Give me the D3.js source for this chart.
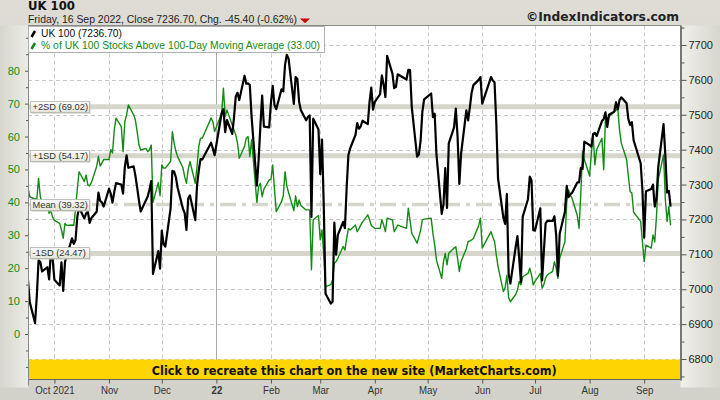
<!DOCTYPE html>
<html><head><meta charset="utf-8">
<script src="https://cdn.jsdelivr.net/npm/d3@7"></script>
<style>body{margin:0;background:#d6d6ce;} svg{display:block}</style>
</head><body><svg id="c" width="720" height="400"></svg>
<script>
// ---------------- DATA ----------------
const ukDates = ["2021-09-16","2021-09-17","2021-09-20","2021-09-21","2021-09-22","2021-09-23","2021-09-24","2021-09-27","2021-09-28","2021-09-29","2021-09-30",
"2021-10-01","2021-10-04","2021-10-05","2021-10-06","2021-10-07","2021-10-08","2021-10-11","2021-10-12","2021-10-13","2021-10-14","2021-10-15","2021-10-18","2021-10-19","2021-10-20","2021-10-21","2021-10-22","2021-10-25","2021-10-26","2021-10-27","2021-10-28","2021-10-29",
"2021-11-01","2021-11-02","2021-11-03","2021-11-04","2021-11-05","2021-11-08","2021-11-09","2021-11-10","2021-11-11","2021-11-12","2021-11-15","2021-11-16","2021-11-17","2021-11-18","2021-11-19","2021-11-22","2021-11-23","2021-11-24","2021-11-25","2021-11-26","2021-11-29","2021-11-30",
"2021-12-01","2021-12-02","2021-12-03","2021-12-06","2021-12-07","2021-12-08","2021-12-09","2021-12-10","2021-12-13","2021-12-14","2021-12-15","2021-12-16","2021-12-17","2021-12-20","2021-12-21","2021-12-22","2021-12-23","2021-12-24","2021-12-29","2021-12-30","2021-12-31",
"2022-01-04","2022-01-05","2022-01-06","2022-01-07","2022-01-10","2022-01-11","2022-01-12","2022-01-13","2022-01-14","2022-01-17","2022-01-18","2022-01-19","2022-01-20","2022-01-21","2022-01-24","2022-01-25","2022-01-26","2022-01-27","2022-01-28","2022-01-31",
"2022-02-01","2022-02-02","2022-02-03","2022-02-04","2022-02-07","2022-02-08","2022-02-09","2022-02-10","2022-02-11","2022-02-14","2022-02-15","2022-02-16","2022-02-17","2022-02-18","2022-02-21","2022-02-22","2022-02-23","2022-02-24","2022-02-25","2022-02-28",
"2022-03-01","2022-03-02","2022-03-03","2022-03-04","2022-03-07","2022-03-08","2022-03-09","2022-03-10","2022-03-11","2022-03-14","2022-03-15","2022-03-16","2022-03-17","2022-03-18","2022-03-21","2022-03-22","2022-03-23","2022-03-24","2022-03-25","2022-03-28","2022-03-29","2022-03-30","2022-03-31",
"2022-04-01","2022-04-04","2022-04-05","2022-04-06","2022-04-07","2022-04-08","2022-04-11","2022-04-12","2022-04-13","2022-04-14","2022-04-19","2022-04-20","2022-04-21","2022-04-22","2022-04-25","2022-04-26","2022-04-27","2022-04-28","2022-04-29",
"2022-05-03","2022-05-04","2022-05-05","2022-05-06","2022-05-09","2022-05-10","2022-05-11","2022-05-12","2022-05-13","2022-05-16","2022-05-17","2022-05-18","2022-05-19","2022-05-20","2022-05-23","2022-05-24","2022-05-25","2022-05-26","2022-05-27","2022-05-30","2022-05-31",
"2022-06-01","2022-06-06","2022-06-07","2022-06-08","2022-06-09","2022-06-10","2022-06-13","2022-06-14","2022-06-15","2022-06-16","2022-06-17","2022-06-20","2022-06-21","2022-06-22","2022-06-23","2022-06-24","2022-06-27","2022-06-28","2022-06-29","2022-06-30",
"2022-07-01","2022-07-04","2022-07-05","2022-07-06","2022-07-07","2022-07-08","2022-07-11","2022-07-12","2022-07-13","2022-07-14","2022-07-15","2022-07-18","2022-07-19","2022-07-20","2022-07-21","2022-07-22","2022-07-25","2022-07-26","2022-07-27","2022-07-28","2022-07-29",
"2022-08-01","2022-08-02","2022-08-03","2022-08-04","2022-08-05","2022-08-08","2022-08-09","2022-08-10","2022-08-11","2022-08-12","2022-08-15","2022-08-16","2022-08-17","2022-08-18","2022-08-19","2022-08-22","2022-08-23","2022-08-24","2022-08-25","2022-08-26","2022-08-30","2022-08-31",
"2022-09-01","2022-09-02","2022-09-05","2022-09-06","2022-09-07","2022-09-08","2022-09-09","2022-09-12","2022-09-13","2022-09-14","2022-09-15","2022-09-16"];
const ukValues = [7027,6963,6903,6980,7083,7078,7051,7063,7028,7108,7086,
7027,7011,7077,6995,7078,7095,7146,7130,7141,7207,7234,7203,7217,7223,7190,7204,7222,7277,7253,7249,7237,
7288,7274,7248,7279,7304,7300,7274,7350,7384,7348,7352,7326,7291,7255,7223,7255,7266,7286,7310,7044,7109,7059,
7168,7129,7122,7232,7339,7337,7321,7291,7231,7218,7170,7260,7269,7198,7297,7341,7373,7372,7420,7403,7384,
7505,7516,7450,7485,7445,7491,7552,7563,7542,7612,7589,7590,7585,7494,7297,7371,7469,7555,7466,7464,
7535,7583,7528,7516,7573,7567,7643,7672,7661,7531,7608,7603,7537,7513,7484,7494,7498,7207,7489,7458,
7330,7429,7238,6987,6959,6964,7191,7099,7156,7193,7175,7291,7385,7404,7442,7476,7460,7467,7483,7473,7537,7578,7515,
7537,7559,7613,7587,7551,7669,7618,7576,7580,7616,7601,7629,7628,7521,7380,7386,7425,7509,7544,
7561,7493,7503,7387,7216,7243,7347,7233,7418,7464,7518,7438,7302,7389,7513,7484,7522,7564,7585,7600,7608,
7532,7608,7598,7593,7476,7317,7205,7187,7273,7044,7016,7121,7152,7089,7020,7208,7258,7323,7312,7169,
7168,7232,7025,7108,7189,7196,7196,7209,7156,7039,7159,7223,7296,7264,7272,7276,7306,7306,7348,7345,7423,
7413,7409,7445,7448,7439,7482,7488,7507,7465,7500,7509,7536,7516,7542,7550,7533,7488,7471,7479,7427,7361,7284,
7148,7281,7287,7300,7237,7262,7351,7473,7385,7277,7282,7237];

const pctDates = ukDates;
const pctValues = [44.5,41.7,41,41,47.3,41.7,40,38.7,36.7,37.5,35.5,
34.5,33.6,31.6,29.1,33.6,33,33.1,33,38,44,49.3,46.3,48.3,45.3,45,46,50.9,54,51,52,53,
53,56,55,62,65.6,63,55.4,64.5,66.6,69.6,66.6,65,61.5,57.5,55.9,56.4,55.4,56,57.4,40,46,42,
51.4,50.4,50.4,52.4,61.5,58,55.5,53.9,50.5,47.8,45.8,50,52.4,45.8,50.9,57,59.5,59.5,65.6,64.5,61.5,
67.1,74.7,66.1,68.1,63.5,62,60.5,58,53.4,57,59.5,60,53.9,59,40,44.8,45.8,41.7,44,46.8,
47,51.4,44,37.2,40.2,42,49.3,45,43,37.5,42,38.7,40.7,39,37.7,37.7,37.7,19.5,34.7,36,
28.6,31.6,24,14.4,15,16.4,21.5,22,23,26.6,25.5,29,32.1,31.6,33.1,31.1,32,33.1,34,36.2,34.7,33,32.5,
32.1,32.1,34.7,33.1,31.1,35.2,34.7,31.1,32,33.1,32.1,38.2,34.5,30.6,27.6,29.5,31.5,34.7,34.9,
35.2,30.6,27,22.5,16.9,22,24.5,21,24.5,26.1,26.5,23,19,22,26,28.1,28.3,28.6,29,33,35.2,
26.1,31.1,29.5,28.1,24,20.5,12.9,14,17.9,11,9.8,12,13.4,16,14.9,17.4,18.4,20,18,14.9,
16,18.4,13.9,15,17,18,19,22,20,16.9,23,28.1,40,43.8,42.3,41.3,36,32.1,42.7,55.4,53,
48,55,60.5,51.4,56,59.5,49.9,65,65.5,66,67.5,68,68.6,62,58,53,48,43.3,42.8,37,34.2,28,
22,27,26.1,30.1,28,36,47,54.4,41,34.2,38.7,33];

const leftTicks = [0,10,20,30,40,50,60,70,80];
const leftMinor = [-10,-5,5,15,25,35,45,55,65,75,85,90];
const rightTicks = [6800,6900,7000,7100,7200,7300,7400,7500,7600,7700];
const rightMinor = [6750,6850,6950,7050,7150,7250,7350,7450,7550,7650,7750];
const monthTicks = ["2021-10-01","2021-11-01","2021-12-01","2022-01-01","2022-02-01","2022-03-01","2022-04-01","2022-05-01","2022-06-01","2022-07-01","2022-08-01","2022-09-01"];
const monthLabels = ["Oct 2021","Nov","Dec","22","Feb","Mar","Apr","May","Jun","Jul","Aug","Sep"];
const bandNames = ["+2SD","+1SD","Mean","-1SD"];
const bandValues = [69.02,54.17,39.32,24.47];
const titleText = "UK 100";
const subtitleText = "Friday, 16 Sep 2022, Close 7236.70, Chg. -45.40 (-0.62%)";
const legendTexts = ["UK 100 (7236.70)","% of UK 100 Stocks Above 100-Day Moving Average (33.00)"];
const bannerText = "Click to recreate this chart on the new site (MarketCharts.com)";
const creditText = "©IndexIndicators.com";

// ---------------- LAYOUT ----------------
const L=28, R=680.5, T=25.5, B=379.5, BANNER_TOP=359.5;
const parse = d3.utcParse("%Y-%m-%d");
const x = d3.scaleUtc().domain([parse("2021-09-16"), d3.utcHour.offset(parse("2022-09-21"),15)]).range([L,R]);
const yR = d3.scaleLinear().domain([6800,7700]).range([359,45]);
const yL = d3.scaleLinear().domain([0,80]).range([334,70.7]);
const GREEN="#138a13", FONT="'Liberation Sans', Arial, sans-serif";

const svg = d3.select("#c");
const defs = svg.append("defs");
function lin(id,x2,y2,stops){const g=defs.append("linearGradient").attr("id",id).attr("x1",0).attr("y1",0).attr("x2",x2).attr("y2",y2);stops.forEach(([o,c])=>g.append("stop").attr("offset",o).attr("stop-color",c));}
lin("bgG",0,1,[[0,"#dedcd4"],[1,"#d2d2ca"]]);
lin("leftG",1,0,[[0,"#d6d6ce"],[1,"#ecece6"]]);
lin("rightG",1,0,[[0,"#f0f0ea"],[1,"#d6d6ce"]]);
lin("boxG",0,1,[[0,"#fbfbf9"],[1,"#e4e4dc"]]);
defs.append("clipPath").attr("id","clip").append("rect").attr("x",L).attr("y",T).attr("width",R-L).attr("height",BANNER_TOP-T);

svg.append("rect").attr("width",720).attr("height",400).attr("fill","url(#bgG)");
svg.append("rect").attr("x",0).attr("y",T).attr("width",L).attr("height",B-T+8).attr("fill","url(#leftG)");
svg.append("rect").attr("x",R).attr("y",T).attr("width",720-R).attr("height",B-T+8).attr("fill","url(#rightG)");
svg.append("rect").attr("x",L).attr("y",T).attr("width",R-L).attr("height",B-T).attr("fill","#fff");

// grid
const grid = svg.append("g");
grid.selectAll(".hg").data(rightTicks).join("line")
  .attr("x1",L).attr("x2",R).attr("y1",d=>Math.round(yR(d))+0.5).attr("y2",d=>Math.round(yR(d))+0.5)
  .attr("stroke","#c8c8c8").attr("stroke-dasharray","4,3");
grid.selectAll(".vg").data(monthTicks).join("line")
  .attr("x1",d=>Math.round(x(parse(d)))+0.5).attr("x2",d=>Math.round(x(parse(d)))+0.5).attr("y1",T).attr("y2",B)
  .attr("stroke",(d,i)=>monthLabels[i]==="22"?"#a8a8a8":"#c8c8c8")
  .attr("stroke-dasharray",(d,i)=>monthLabels[i]==="22"?null:"4,3");

// SD bands
svg.append("g").selectAll("line").data(bandValues).join("line")
  .attr("x1",L).attr("x2",R).attr("y1",d=>yL(d)).attr("y2",d=>yL(d))
  .attr("stroke","#d6d6cc").attr("stroke-width",(d,i)=>bandNames[i]==="Mean"?3.5:5)
  .attr("stroke-dasharray",(d,i)=>bandNames[i]==="Mean"?"16,6,4,6":null);

// series
const pctData = pctDates.map((d,i)=>({t:parse(d),v:pctValues[i]}));
const ukData = ukDates.map((d,i)=>({t:parse(d),v:ukValues[i]}));
const plot = svg.append("g").attr("clip-path","url(#clip)");
plot.append("path").datum(pctData).attr("fill","none").attr("stroke",GREEN).attr("stroke-width",1.4)
  .attr("stroke-linejoin","round").attr("d",d3.line().x(d=>x(d.t)).y(d=>yL(d.v)));
plot.append("path").datum(ukData).attr("fill","none").attr("stroke","#000").attr("stroke-width",2.2)
  .attr("stroke-linejoin","round").attr("d",d3.line().x(d=>x(d.t)).y(d=>yR(d.v)));

// band labels
const bl = svg.append("g").selectAll("g").data(bandValues).join("g")
  .attr("transform",d=>`translate(30.5,${Math.round(yL(d))-5.5})`);
bl.append("rect").attr("x",1).attr("y",1).attr("width",59).attr("height",11).attr("fill","#c4c4bc");
bl.append("rect").attr("width",59).attr("height",11).attr("fill","url(#boxG)").attr("stroke","#b4b4ac").attr("stroke-width",0.8);
bl.append("text").attr("x",2).attr("y",8.8).attr("font-family",FONT).attr("font-size",9.3).attr("fill","#333")
  .text((d,i)=>`${bandNames[i]} (${d.toFixed(2)})`);

// banner
svg.append("rect").attr("x",L).attr("y",BANNER_TOP).attr("width",R-L).attr("height",B-BANNER_TOP).attr("fill","#ffd500");
svg.append("text").attr("x",(L+R)/2).attr("y",374.5).attr("text-anchor","middle")
  .attr("font-family","'DejaVu Sans', sans-serif").attr("font-weight","bold").attr("font-size",12.5).attr("fill","#111")
  .attr("textLength",405).attr("lengthAdjust","spacingAndGlyphs").text(bannerText);

// frame
svg.append("line").attr("x1",L).attr("x2",R).attr("y1",T).attr("y2",T).attr("stroke","#8a8a8a");
svg.append("line").attr("x1",L).attr("x2",R+1).attr("y1",B).attr("y2",B).attr("stroke","#666");
svg.append("line").attr("x1",R+0.5).attr("x2",R+0.5).attr("y1",T).attr("y2",B+1).attr("stroke","#777").attr("stroke-width",2);

// axes
function styleAxis(g,color){g.selectAll("text").attr("font-family",FONT).attr("font-size",11).attr("fill",color);g.selectAll("line").attr("stroke","#555");g.select(".domain").remove();}
svg.append("g").attr("transform",`translate(${L},0)`).call(d3.axisLeft(yL).tickValues(leftTicks).tickSize(3).tickPadding(5).tickFormat(d3.format("d"))).call(g=>styleAxis(g,GREEN));
svg.append("g").attr("transform",`translate(${L},0)`).call(d3.axisLeft(yL).tickValues(leftMinor).tickSize(2).tickFormat("")).call(g=>styleAxis(g,GREEN));
svg.append("line").attr("x1",L+0.5).attr("x2",L+0.5).attr("y1",T).attr("y2",B+6).attr("stroke","#888");
svg.append("g").attr("transform",`translate(${R+1},0)`).call(d3.axisRight(yR).tickValues(rightTicks).tickSize(5).tickPadding(2).tickFormat(d3.format("d"))).call(g=>styleAxis(g,"#222"));
svg.append("g").attr("transform",`translate(${R+1},0)`).call(d3.axisRight(yR).tickValues(rightMinor).tickSize(3).tickFormat("")).call(g=>styleAxis(g,"#222"));
const xa = svg.append("g").attr("transform",`translate(0,${B})`)
  .call(d3.axisBottom(x).tickValues(monthTicks.map(parse)).tickSize(4).tickPadding(3).tickFormat((d,i)=>monthLabels[i]))
  .call(g=>styleAxis(g,"#333"));
xa.selectAll("text").attr("font-weight",(d,i)=>monthLabels[i]==="22"?"bold":null)
  .each(function(){const w=this.getComputedTextLength();d3.select(this).attr("textLength",w*0.88).attr("lengthAdjust","spacingAndGlyphs");});

// legend
const lg = svg.append("g");
lg.append("rect").attr("x",L+0.5).attr("y",26.5).attr("width",296).attr("height",26).attr("fill","#fff").attr("stroke","#b0b0b0");
lg.append("line").attr("x1",31.5).attr("y1",37).attr("x2",35).attr("y2",31).attr("stroke","#000").attr("stroke-width",2.5);
lg.append("line").attr("x1",31.5).attr("y1",49).attr("x2",35).attr("y2",43).attr("stroke",GREEN).attr("stroke-width",2.5);
lg.append("text").attr("x",41).attr("y",37).attr("font-family",FONT).attr("font-size",10.5).attr("fill","#111")
  .attr("textLength",81).attr("lengthAdjust","spacingAndGlyphs").text(legendTexts[0]);
lg.append("text").attr("x",41).attr("y",48.8).attr("font-family",FONT).attr("font-size",10.5).attr("fill",GREEN)
  .attr("textLength",279).attr("lengthAdjust","spacingAndGlyphs").text(legendTexts[1]);

// titles
svg.append("text").attr("x",28).attr("y",10.3).attr("font-family","'DejaVu Sans', sans-serif").attr("font-weight","bold")
  .attr("font-size",11.5).attr("fill","#111").attr("textLength",47).attr("lengthAdjust","spacingAndGlyphs").text(titleText);
svg.append("text").attr("x",28).attr("y",22.8).attr("font-family",FONT).attr("font-size",10.5).attr("fill","#222")
  .attr("textLength",269).attr("lengthAdjust","spacingAndGlyphs").text(subtitleText);
svg.append("path").attr("d","M300,18.5 L310,18.5 L305,23.2 Z").attr("fill","#cc0000");
svg.append("text").attr("x",679).attr("y",21).attr("text-anchor","end").attr("font-family","'DejaVu Sans', sans-serif")
  .attr("font-weight","bold").attr("font-size",12).attr("fill","#222").attr("textLength",153).attr("lengthAdjust","spacingAndGlyphs").text(creditText);
</script></body></html>
